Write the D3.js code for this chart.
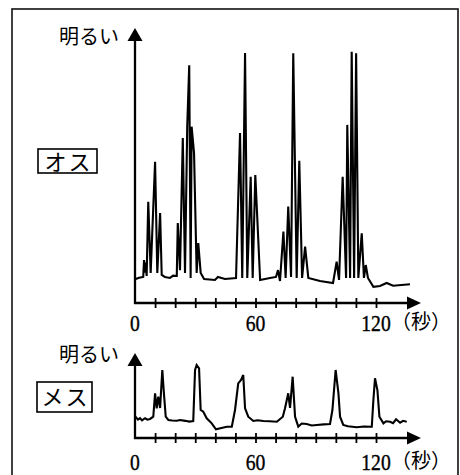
<!DOCTYPE html>
<html>
<head>
<meta charset="utf-8">
<script src="https://cdn.jsdelivr.net/npm/d3@7"></script>
<style>
  body { margin: 0; background: #fff; }
  svg { display: block; }
</style>
</head>
<body>
<div id="chart"></div>
<script>
// time (s) and brightness readings, オス (male)
var maleTime = [0, 2, 4.1, 4.5, 5.0, 5.3, 5.8, 6.6, 7.8, 10, 11.1, 12.5, 13.3, 14.9, 17.4, 19, 20.8,
    21.3, 22.4, 23.8, 24.9, 26, 27, 27.7, 28.2, 29.4, 30.7, 31.5, 32.7, 34.4, 39.8, 41.3, 44.8, 50.3,
    52.3, 53.4, 54.8, 55.9, 57.6, 58.6, 59.9, 62.3, 67.2, 70.2, 71.2, 72.2, 73.9, 75, 76.3, 77.7,
    78.8, 80.5, 81.8, 83.2, 84.7, 86.3, 92.1, 98.6, 100.4, 101.6, 103.4, 105.1, 105.7, 107.1, 107.9,
    109.1, 110.1, 111.2, 112.9, 114, 114.9, 116, 118.7, 122, 125.3, 128.5, 136.9];
var maleValue = [9.4, 10, 10.3, 17, 12, 16, 10.7, 40, 11.9, 55.8, 11.9, 35.6, 11.1, 10.3, 9.9, 10.8, 10.7,
    31.6, 13, 65.2, 11.9, 69.7, 94, 9.9, 69.7, 59.3, 11.9, 23.7, 11.9, 9.5, 9.1, 10.3, 9.5, 9.9,
    67.2, 9.9, 98.8, 9.9, 49.9, 9.9, 50.6, 9.1, 9.9, 10.3, 13, 8.7, 28.2, 9.9, 38.1, 10.3,
    98.7, 9.9, 56.2, 9.9, 22.3, 9.9, 8.7, 7.9, 16.3, 9.1, 49.9, 9.9, 70.4, 9.9, 99.3,
    9.9, 98.7, 9.9, 27.5, 9.9, 15, 9.9, 6.4, 6.7, 7.9, 6.8, 7.4];

// time (s) and brightness readings, メス (female)
var femaleTime = [0, 0.5, 1.5, 2.5, 3.5, 5, 6.2, 7.5, 9.1, 10, 10.8, 11.6, 12.5, 13.6, 14.4, 15.3, 16.6,
    18.5, 20.8, 22.4, 25, 27, 29, 29.9, 30.7, 31.9, 32.7, 34, 35.7, 38.2, 40.3, 42.5, 45.7, 48.2,
    49.8, 51.4, 52.8, 53.9, 54.8, 56.4, 58.9, 61, 63.9, 67, 70.6, 73.6, 74.7, 76.3, 77.2, 78.5,
    79.7, 81.3, 83, 85.5, 88, 90.5, 94, 97.1, 98.3, 99.9, 101.3, 102.1, 103.7, 106, 110.4, 114,
    117.9, 118.7, 119.5, 120.7, 121.7, 123.7, 125, 127, 128.5, 130, 132, 133.5, 135.3];
var femaleValue = [25, 26.5, 23.5, 25.5, 22.5, 25.3, 23.5, 24.4, 27.3, 57.3, 38.1, 52.9, 38.5, 87.2, 57.3, 27.3, 23.1,
    22.5, 22.2, 23.1, 22, 21, 21.8, 87.2, 93.6, 89.4, 35.9, 33.7, 25.3, 18.8, 11.2, 12.5, 14.5, 14.5,
    35.9, 70.1, 74.4, 80.8, 38.1, 27.3, 21.8, 22.8, 21.8, 21.5, 20.9, 27.3, 38.1, 57.3, 38.5, 78.6,
    27.3, 14.5, 18.5, 17.9, 16, 16.7, 17.5, 17.9, 35.9, 87.2, 57.3, 27.3, 16.7, 15, 13.7, 14.8,
    14.5, 48.7, 76.5, 61.5, 27.3, 18.8, 21.5, 20.9, 19, 24, 19.6, 22, 20.9];

var tickValues = [10, 20, 30, 40, 50, 60, 70, 80, 90, 100, 110, 120];
var tickLabels = [0, 60, 120];
var yLabel = "明るい";
var unitLabel = "（秒）";
var panelNames = ["オス", "メス"];

var svgWidth = 460;
var svgHeight = 475;

var svg = d3.select("#chart")
    .append("svg")
    .attr("width", svgWidth)
    .attr("height", svgHeight);

// outer frame
svg.append("rect")
    .attr("x", 12)
    .attr("y", 9)
    .attr("width", 446)
    .attr("height", 480)
    .attr("fill", "none")
    .attr("stroke", "#111")
    .attr("stroke-width", 1.6);

var xScale = d3.scaleLinear().domain([0, 120]).range([135, 376]);
var xMax = 142.4;

var panels = [
    { name: panelNames[0], time: maleTime, value: maleValue,
      y: d3.scaleLinear().domain([0, 100]).range([303, 50]), top: 28,
      labelY: 44, box: [38, 149, 59, 24], nameY: 170, labelBase: 331 },
    { name: panelNames[1], time: femaleTime, value: femaleValue,
      y: d3.scaleLinear().domain([0, 100]).range([438, 360]), top: 353,
      labelY: 362, box: [37, 382, 55, 30], nameY: 405, labelBase: 470 }
];

panels.forEach(function(p) {
    var y0 = p.y(0);
    var g = svg.append("g");

    // x axis with ticks crossing it
    var bottomAxis = d3.axisBottom(xScale)
        .tickValues(tickValues)
        .tickSize(5)
        .tickFormat("");

    var xAxis = g.append("g")
        .attr("transform", `translate(0, ${y0})`)
        .call(bottomAxis);
    xAxis.select(".domain").remove();
    xAxis.selectAll(".tick line")
        .attr("y1", -5)
        .attr("y2", 5)
        .attr("stroke", "#000")
        .attr("stroke-width", 1.8);

    g.append("line")
        .attr("x1", xScale(0) - 1)
        .attr("x2", xScale(xMax) - 8)
        .attr("y1", y0)
        .attr("y2", y0)
        .attr("stroke", "#000")
        .attr("stroke-width", 2.3);

    var ax = xScale(xMax);
    g.append("path")
        .attr("d", `M${ax},${y0} L${ax - 14},${y0 - 6.5} L${ax - 14},${y0 + 6.5} Z`)
        .attr("fill", "#000");

    // y axis with arrow
    var x0 = xScale(0);
    g.append("line")
        .attr("x1", x0)
        .attr("x2", x0)
        .attr("y1", y0 + 1)
        .attr("y2", p.top + 8)
        .attr("stroke", "#000")
        .attr("stroke-width", 2.3);
    g.append("path")
        .attr("d", `M${x0},${p.top} L${x0 - 7.5},${p.top + 13} L${x0 + 7.5},${p.top + 13} Z`)
        .attr("fill", "#000");

    // trace
    var pts = p.time.map(function(t, i) { return [t, p.value[i]]; });
    var line = d3.line()
        .x(d => xScale(d[0]))
        .y(d => p.y(d[1]));
    g.append("path")
        .datum(pts)
        .attr("d", line)
        .attr("fill", "none")
        .attr("stroke", "#000")
        .attr("stroke-width", 2.1)
        .attr("stroke-linejoin", "miter")
        .attr("stroke-miterlimit", 3);

    // tick labels
    tickLabels.forEach(function(v) {
        g.append("text")
            .attr("transform", `translate(${xScale(v)}, ${p.labelBase}) scale(0.82, 1)`)
            .attr("text-anchor", "middle")
            .attr("font-family", "'Liberation Serif', 'DejaVu Serif', serif")
            .attr("font-size", "24px")
            .attr("fill", "#000")
            .attr("stroke", "#000")
            .attr("stroke-width", 0.4)
            .text(v);
    });

    g.append("text")
        .attr("x", 391)
        .attr("y", p.labelBase - 2)
        .attr("font-family", "'Noto Sans CJK JP', sans-serif")
        .attr("font-size", "20px")
        .attr("fill", "#000")
        .text(unitLabel);

    g.append("text")
        .attr("x", 59)
        .attr("y", p.labelY)
        .attr("font-family", "'Noto Sans CJK JP', sans-serif")
        .attr("font-size", "20px")
        .attr("fill", "#000")
        .text(yLabel);

    // panel name box
    g.append("rect")
        .attr("x", p.box[0])
        .attr("y", p.box[1])
        .attr("width", p.box[2])
        .attr("height", p.box[3])
        .attr("fill", "none")
        .attr("stroke", "#000")
        .attr("stroke-width", 1.6);

    g.append("text")
        .attr("x", p.box[0] + p.box[2] / 2 + 1)
        .attr("y", p.nameY)
        .attr("text-anchor", "middle")
        .attr("font-family", "'Noto Sans CJK JP', sans-serif")
        .attr("font-size", "22px")
        .attr("letter-spacing", "2px")
        .attr("fill", "#000")
        .text(p.name);
});
</script>
</body>
</html>
